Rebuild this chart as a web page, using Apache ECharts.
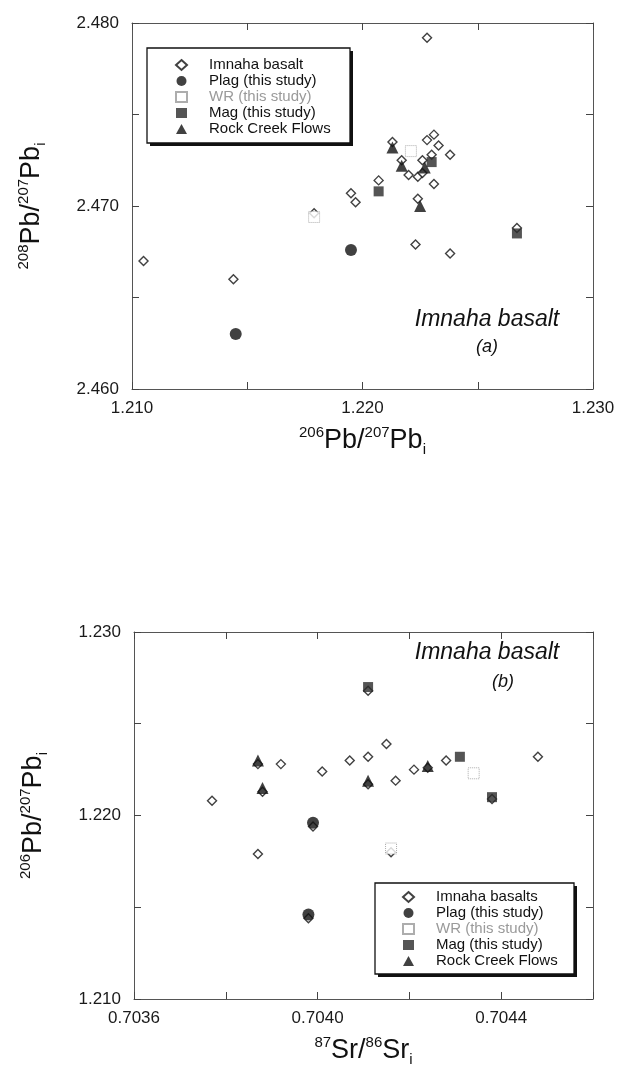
<!DOCTYPE html>
<html>
<head>
<meta charset="utf-8">
<script src="https://cdn.jsdelivr.net/npm/echarts@6/dist/echarts.min.js"></script>
<style>
  html, body { margin: 0; padding: 0; background: #fff; }
  #chart { width: 619px; height: 1069px; }
</style>
</head>
<body>
<div id="chart"></div>
<script>
// ---- data: panel (a)  206Pb/207Pb vs 208Pb/207Pb
const imnahaA = [
    [1.2228, 2.4792], [1.2213, 2.4735], [1.2228, 2.4736], [1.2231, 2.4739],
    [1.2233, 2.4733], [1.2238, 2.4728], [1.2217, 2.4725], [1.2220, 2.4717],
    [1.2224, 2.4716], [1.2226, 2.4718], [1.2231, 2.4712], [1.2230, 2.4728],
    [1.2226, 2.4725], [1.2207, 2.4714], [1.2195, 2.4707], [1.2197, 2.4702],
    [1.2224, 2.4704], [1.2179, 2.4696], [1.2267, 2.4688], [1.2223, 2.4679],
    [1.2238, 2.4674], [1.2105, 2.4670], [1.2144, 2.4660]
];
const plagA = [[1.2195, 2.4676], [1.2145, 2.4630]];
const wrA = [[1.2179, 2.4694], [1.2221, 2.4730]];
const magA = [[1.2207, 2.4708], [1.2230, 2.4724], [1.2267, 2.4685]];
const rockA = [[1.2213, 2.4732], [1.2217, 2.4722], [1.2227, 2.4721], [1.2225, 2.4700]];

// ---- data: panel (b)  87Sr/86Sr vs 206Pb/207Pb
const imnahaB = [
    [0.70415, 1.2239], [0.70387, 1.2228], [0.70392, 1.2228], [0.70401, 1.2224],
    [0.70407, 1.2230], [0.70411, 1.2232], [0.70411, 1.2217], [0.70417, 1.2219],
    [0.70421, 1.2225], [0.70424, 1.2226], [0.70428, 1.2230], [0.70448, 1.2232],
    [0.70388, 1.2213], [0.70377, 1.2208], [0.70387, 1.2179], [0.70399, 1.2194],
    [0.70398, 1.2144], [0.70411, 1.2268], [0.70438, 1.2209], [0.70416, 1.2180]
];
const plagB = [[0.70399, 1.2196], [0.70398, 1.2146]];
const wrB = [[0.70416, 1.2182], [0.70434, 1.2223]];
const magB = [[0.70411, 1.2270], [0.70431, 1.2232], [0.70438, 1.2210]];
const rockB = [[0.70387, 1.2230], [0.70388, 1.2215], [0.70411, 1.2219], [0.70424, 1.2227]];

const legendA = ['Imnaha basalt', 'Plag (this study)', 'WR (this study)', 'Mag (this study)', 'Rock Creek Flows'];
const legendB = ['Imnaha basalts', 'Plag (this study)', 'WR (this study)', 'Mag (this study)', 'Rock Creek Flows'];

const FONT = 'Liberation Sans, Arial, Helvetica, sans-serif';

// show a label on every second tick only
function everyOther(base, step, digits) {
    return function (v) {
        return Math.round((v - base) / step) % 2 === 0 ? v.toFixed(digits) : '';
    };
}

function valueAxis(grid, pos, min, max, interval, digits, labels, name, nameGap) {
    const vertical = pos === 'left' || pos === 'right';
    return {
        type: 'value', gridIndex: grid, position: pos,
        min: min, max: max, interval: interval,
        axisLine: { show: true, lineStyle: { color: '#555', width: 1 } },
        axisTick: { show: true, inside: true, length: 7, lineStyle: { color: '#444' } },
        splitLine: { show: false },
        axisLabel: {
            show: labels, fontSize: 17, color: '#1a1a1a', fontFamily: FONT,
            margin: vertical ? 13 : 11,
            formatter: everyOther(min, interval, digits)
        },
        name: labels ? name : '',
        nameLocation: 'middle',
        nameGap: nameGap,
        nameRotate: vertical ? 90 : 0,
        nameTextStyle: {
            color: '#111', fontFamily: FONT,
            rich: {
                b: { fontSize: 27, lineHeight: 32, fontFamily: FONT, color: '#111' },
                sup: { fontSize: 15, lineHeight: 16, verticalAlign: 'top', fontFamily: FONT, color: '#111' },
                sub: { fontSize: 15, lineHeight: 14, verticalAlign: 'bottom', fontFamily: FONT, color: '#111' }
            }
        }
    };
}

function panelSeries(axis, imnahaName, imnaha, plag, wr, mag, rock) {
    const common = { type: 'scatter', xAxisIndex: axis, yAxisIndex: axis, animation: false };
    return [
        Object.assign({}, common, {
            name: imnahaName, data: imnaha, symbol: 'diamond', symbolSize: 9, z: 2,
            itemStyle: { color: '#fff', borderColor: '#111', borderWidth: 1.4 }
        }),
        Object.assign({}, common, {
            name: 'Plag (this study)', data: plag, symbol: 'circle', symbolSize: 12, z: 3,
            itemStyle: { color: '#111' }
        }),
        Object.assign({}, common, {
            name: 'WR (this study)', data: wr, symbol: 'rect', symbolSize: 11, z: 3,
            itemStyle: { color: '#fff', borderColor: '#999', borderWidth: 1, borderType: 'dotted' }
        }),
        Object.assign({}, common, {
            name: 'Mag (this study)', data: mag, symbol: 'rect', symbolSize: 10, z: 3,
            itemStyle: { color: '#2b2b2b' }
        }),
        Object.assign({}, common, {
            name: 'Rock Creek Flows', data: rock, symbol: 'triangle', symbolSize: 12, z: 3,
            itemStyle: { color: '#111' }
        })
    ];
}

function legendList(names, left, top) {
    return {
        orient: 'vertical', left: left, top: top,
        selectedMode: false,
        itemWidth: 11, itemHeight: 10, itemGap: 0,
        padding: 0,
        textStyle: { fontSize: 15, lineHeight: 16, color: '#111', fontFamily: FONT, padding: [0, 0, 0, 17] },
        data: names.map(function (n) {
            return n === 'WR (this study)'
                ? { name: n, textStyle: { color: '#9a9a9a', padding: [0, 0, 0, 17] } }
                : { name: n };
        })
    };
}

// framed legend box with a hard drop shadow
function legendFrame(x, y, w, h) {
    return [
        { type: 'rect', z: 0, shape: { x: x + 3, y: y + 3, width: w, height: h }, style: { fill: '#111' } },
        { type: 'rect', z: 0, shape: { x: x, y: y, width: w, height: h }, style: { fill: '#fff', stroke: '#111', lineWidth: 1.3 } }
    ];
}

function note(text, x, y, size) {
    return {
        type: 'text', x: x, y: y, z: 1,
        style: { text: text, fontSize: size, fontStyle: 'italic', fontFamily: FONT, fill: '#111', align: 'center', verticalAlign: 'middle' }
    };
}

const chart = echarts.init(document.getElementById('chart'));

const option = {
    backgroundColor: '#fff',
    animation: false,
    grid: [
        { left: 132, top: 23, width: 461, height: 366 },
        { left: 134, top: 632, width: 459, height: 367 }
    ],
    xAxis: [
        valueAxis(0, 'bottom', 1.210, 1.230, 0.005, 3, true, '{sup|206}{b|Pb/}{sup|207}{b|Pb}{sub|i}', 36),
        valueAxis(0, 'top', 1.210, 1.230, 0.005, 3, false, '', 0),
        valueAxis(1, 'bottom', 0.7036, 0.7046, 0.0002, 4, true, '{sup|87}{b|Sr/}{sup|86}{b|Sr}{sub|i}', 36),
        valueAxis(1, 'top', 0.7036, 0.7046, 0.0002, 4, false, '', 0)
    ],
    yAxis: [
        valueAxis(0, 'left', 2.460, 2.480, 0.005, 3, true, '{sup|208}{b|Pb/}{sup|207}{b|Pb}{sub|i}', 84),
        valueAxis(0, 'right', 2.460, 2.480, 0.005, 3, false, '', 0),
        valueAxis(1, 'left', 1.210, 1.230, 0.005, 3, true, '{sup|206}{b|Pb/}{sup|207}{b|Pb}{sub|i}', 84),
        valueAxis(1, 'right', 1.210, 1.230, 0.005, 3, false, '', 0)
    ],
    legend: [
        legendList(legendA, 175, 57),
        legendList(legendB, 402, 889)
    ],
    graphic: []
        .concat(legendFrame(147, 48, 203, 95))
        .concat(legendFrame(375, 883, 199, 91))
        .concat([
            note('Imnaha basalt', 487, 320, 23),
            note('(a)', 487, 347, 18),
            note('Imnaha basalt', 487, 653, 23),
            note('(b)', 503, 682, 18)
        ]),
    series: []
        .concat(panelSeries(0, 'Imnaha basalt', imnahaA, plagA, wrA, magA, rockA))
        .concat(panelSeries(2, 'Imnaha basalts', imnahaB, plagB, wrB, magB, rockB))
};

chart.setOption(option);
</script>
</body>
</html>
